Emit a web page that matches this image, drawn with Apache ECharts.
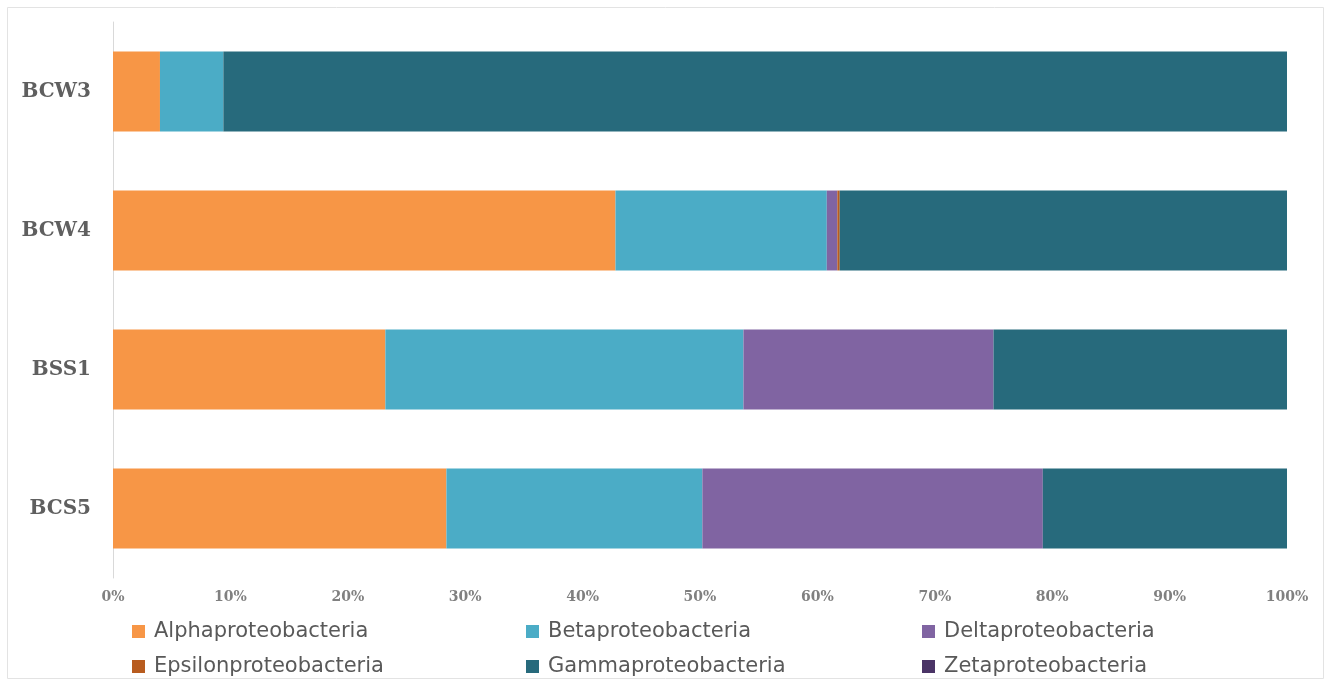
<!DOCTYPE html>
<html>
<head>
<meta charset="utf-8">
<script src="https://cdn.jsdelivr.net/npm/echarts@6/dist/echarts.min.js"></script>
<style>
  html, body { margin: 0; padding: 0; background: #ffffff; }
  #chart { width: 1327px; height: 682px; }
</style>
</head>
<body>
<div id="chart"></div>
<script>
// Sample sites (top to bottom)
const sites = ['BCW3', 'BCW4', 'BSS1', 'BCS5'];

// Relative abundance (%) of each proteobacterial class per site
const classNames = [
  'Alphaproteobacteria', 'Betaproteobacteria', 'Deltaproteobacteria',
  'Epsilonproteobacteria', 'Gammaproteobacteria', 'Zetaproteobacteria'
];
const alpha   = [4.0, 42.8, 23.2, 28.4];
const beta    = [5.4, 18.0, 30.5, 21.8];
const delta   = [0.0, 0.9, 21.3, 29.0];
const epsilon = [0.0, 0.2, 0.0, 0.0];
const gamma   = [90.6, 38.1, 25.0, 20.8];
const zeta    = [0.0, 0.0, 0.0, 0.0];

// Axis tick labels
const tickValues = [0, 10, 20, 30, 40, 50, 60, 70, 80, 90, 100];

const classValues = [alpha, beta, delta, epsilon, gamma, zeta];
const classColors = ['#F79646', '#4BACC6', '#8064A2', '#B85C1F', '#276A7C', '#4A3466'];

const chart = echarts.init(document.getElementById('chart'), null, { renderer: 'canvas' });

const series = classNames.map((name, i) => ({
  name: name,
  type: 'bar',
  stack: 'total',
  barWidth: '57.5%',
  itemStyle: { color: classColors[i] },
  emphasis: { disabled: true },
  data: classValues[i]
}));

// Legend laid out as a 3 x 2 grid, one legend block per entry
const legendCols = [132, 526, 922];
const legendRows = [621, 656];
const legends = classNames.map((name, i) => ({
  data: [name],
  left: legendCols[i % 3],
  top: legendRows[Math.floor(i / 3)],
  itemWidth: 13,
  itemHeight: 13,
  icon: 'rect',
  selectedMode: false,
  padding: 0,
  textStyle: {
    fontFamily: '"DejaVu Sans", sans-serif',
    fontSize: 21,
    color: '#595959',
    padding: [0, 0, 0, 4]
  }
}));

chart.setOption({
  animation: false,
  backgroundColor: '#ffffff',
  graphic: [{
    type: 'rect',
    shape: { x: 7.5, y: 7.5, width: 1316, height: 671 },
    style: { fill: 'none', stroke: '#e3e3e3', lineWidth: 1 },
    silent: true,
    z: -1
  }],
  grid: { left: 113, right: 40, top: 22, bottom: 104, containLabel: false },
  legend: legends,
  xAxis: {
    type: 'value',
    min: 0,
    max: 100,
    interval: 10,
    axisLine: { show: false },
    axisTick: { show: false },
    splitLine: { show: false },
    axisLabel: {
      margin: 12,
      formatter: v => tickValues.includes(v) ? v + '%' : '',
      fontFamily: '"DejaVu Serif", "Liberation Serif", serif',
      fontWeight: 'bold',
      fontSize: 14,
      color: '#808080'
    }
  },
  yAxis: {
    type: 'category',
    data: sites,
    inverse: true,
    axisLine: { show: true, lineStyle: { color: '#d9d9d9', width: 1 } },
    axisTick: { show: false },
    splitLine: { show: false },
    axisLabel: {
      margin: 22,
      fontFamily: '"DejaVu Serif", "Liberation Serif", serif',
      fontWeight: 'bold',
      fontSize: 20,
      color: '#5f5f5f'
    }
  },
  series: series
});
</script>
</body>
</html>
